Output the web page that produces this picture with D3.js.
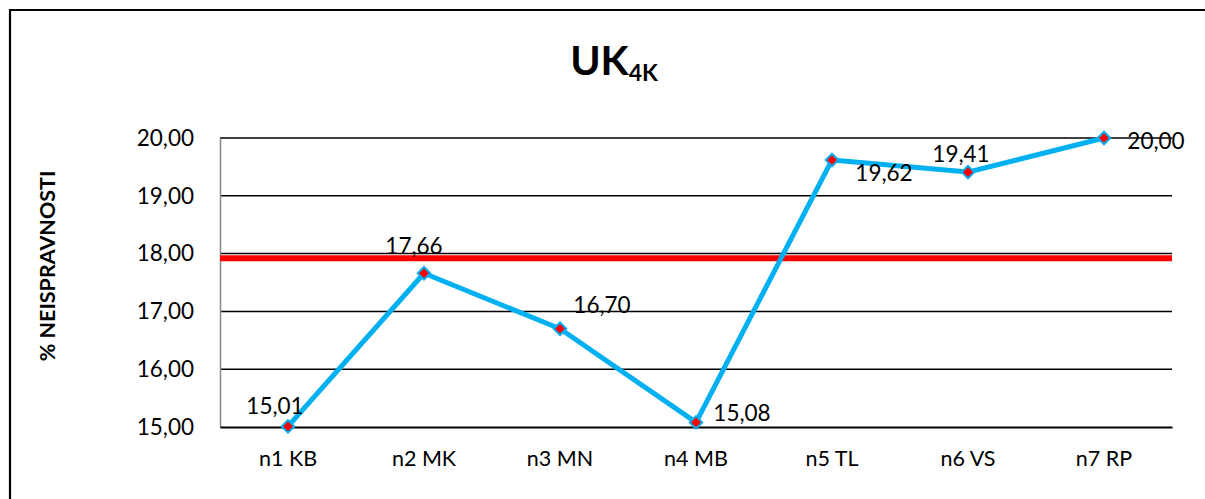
<!DOCTYPE html>
<html><head><meta charset="utf-8">
<script src="https://cdn.jsdelivr.net/npm/d3@7"></script>
<style>body{margin:0;background:#fff;}svg{display:block;font-family:Lato,"Open Sans",sans-serif;}</style>
</head><body>
<svg id="c" width="1205" height="499"></svg>
<script>
const categories = ["n1 KB","n2 MK","n3 MN","n4 MB","n5 TL","n6 VS","n7 RP"];
const values = [15.01,17.66,16.70,15.08,19.62,19.41,20.00];
const valueLabels = ["15,01","17,66","16,70","15,08","19,62","19,41","20,00"];
const yTicks = [15,16,17,18,19,20];
const referenceValue = 17.92;
const labelOffsets = [[-13,-21],[-10,-28],[42,-24],[46,-10],[52,13],[-7,-19],[52,2]];

(function(){
const svg = d3.select("#c");
const W = 1205, H = 499;
const pL = 220, pR = 1172, pT = 138, pB = 427;

// frame
svg.append("path").attr("d",`M10,${H+5} V10 H${W+5}`).attr("fill","none").attr("stroke","#000").attr("stroke-width",2.2);

const x = d3.scaleBand().domain(categories).range([pL,pR]);
const y = d3.scaleLinear().domain([15,20]).range([pB,pT]);
const fmt = d => d.toFixed(2).replace(".",",");

// gridlines
svg.append("g").selectAll("line").data(yTicks.filter(t=>t>15)).join("line")
  .attr("x1",pL).attr("x2",pR).attr("y1",d=>y(d)).attr("y2",d=>y(d))
  .attr("stroke","#000").attr("stroke-width",1.5);

// y axis
const ya = svg.append("g").attr("transform",`translate(${pL},0)`)
  .call(d3.axisLeft(y).tickValues(yTicks).tickFormat(fmt).tickSize(0).tickPadding(26));
ya.select(".domain").attr("stroke","#888").attr("stroke-width",1.5);
ya.selectAll("text").attr("font-size",22.5).attr("fill","#000").attr("font-family","Lato");

// x axis
const xa = svg.append("g").attr("transform",`translate(0,${pB})`)
  .call(d3.axisBottom(x).tickSize(0).tickPadding(24));
xa.select(".domain").attr("stroke","#000").attr("stroke-width",2.2);
xa.selectAll("text").attr("font-size",21.5).attr("fill","#000").attr("font-family","Lato");

// reference line
svg.append("line").attr("x1",pL).attr("x2",pR)
  .attr("y1",y(referenceValue)).attr("y2",y(referenceValue))
  .attr("stroke","#FF0000").attr("stroke-width",6);

const cx = (d,i) => x(categories[i]) + x.bandwidth()/2;
svg.append("path").datum(values)
  .attr("d", d3.line().x((d,i)=>cx(d,i)).y(d=>y(d)))
  .attr("fill","none").attr("stroke","#00B0F0").attr("stroke-width",5).attr("stroke-linejoin","round");

svg.append("g").selectAll("path").data(values).join("path")
  .attr("d", d3.symbol().type(d3.symbolDiamond2).size(100))
  .attr("transform",(d,i)=>`translate(${cx(d,i)},${y(d)})`)
  .attr("fill","#FF0000").attr("stroke","#00B0F0").attr("stroke-width",2);

svg.append("g").selectAll("text").data(values).join("text")
  .attr("x",(d,i)=>cx(d,i)+labelOffsets[i][0])
  .attr("y",(d,i)=>y(d)+labelOffsets[i][1])
  .attr("text-anchor","middle").attr("dominant-baseline","central")
  .attr("font-size",22.5).attr("fill","#000")
  .text((d,i)=>valueLabels[i]);

// title
const t = svg.append("text").attr("x",614).attr("y",75).attr("text-anchor","middle")
  .attr("font-weight","bold").attr("font-size",41).attr("fill","#000");
t.append("tspan").text("UK");
t.append("tspan").attr("font-size",23).attr("dy",6).text("4K");

// y title
svg.append("text").attr("transform","translate(55,266) rotate(-90)")
  .attr("text-anchor","middle").attr("font-weight","bold").attr("font-size",21.5).attr("fill","#000")
  .text("% NEISPRAVNOSTI");
})();
</script>
</body></html>
